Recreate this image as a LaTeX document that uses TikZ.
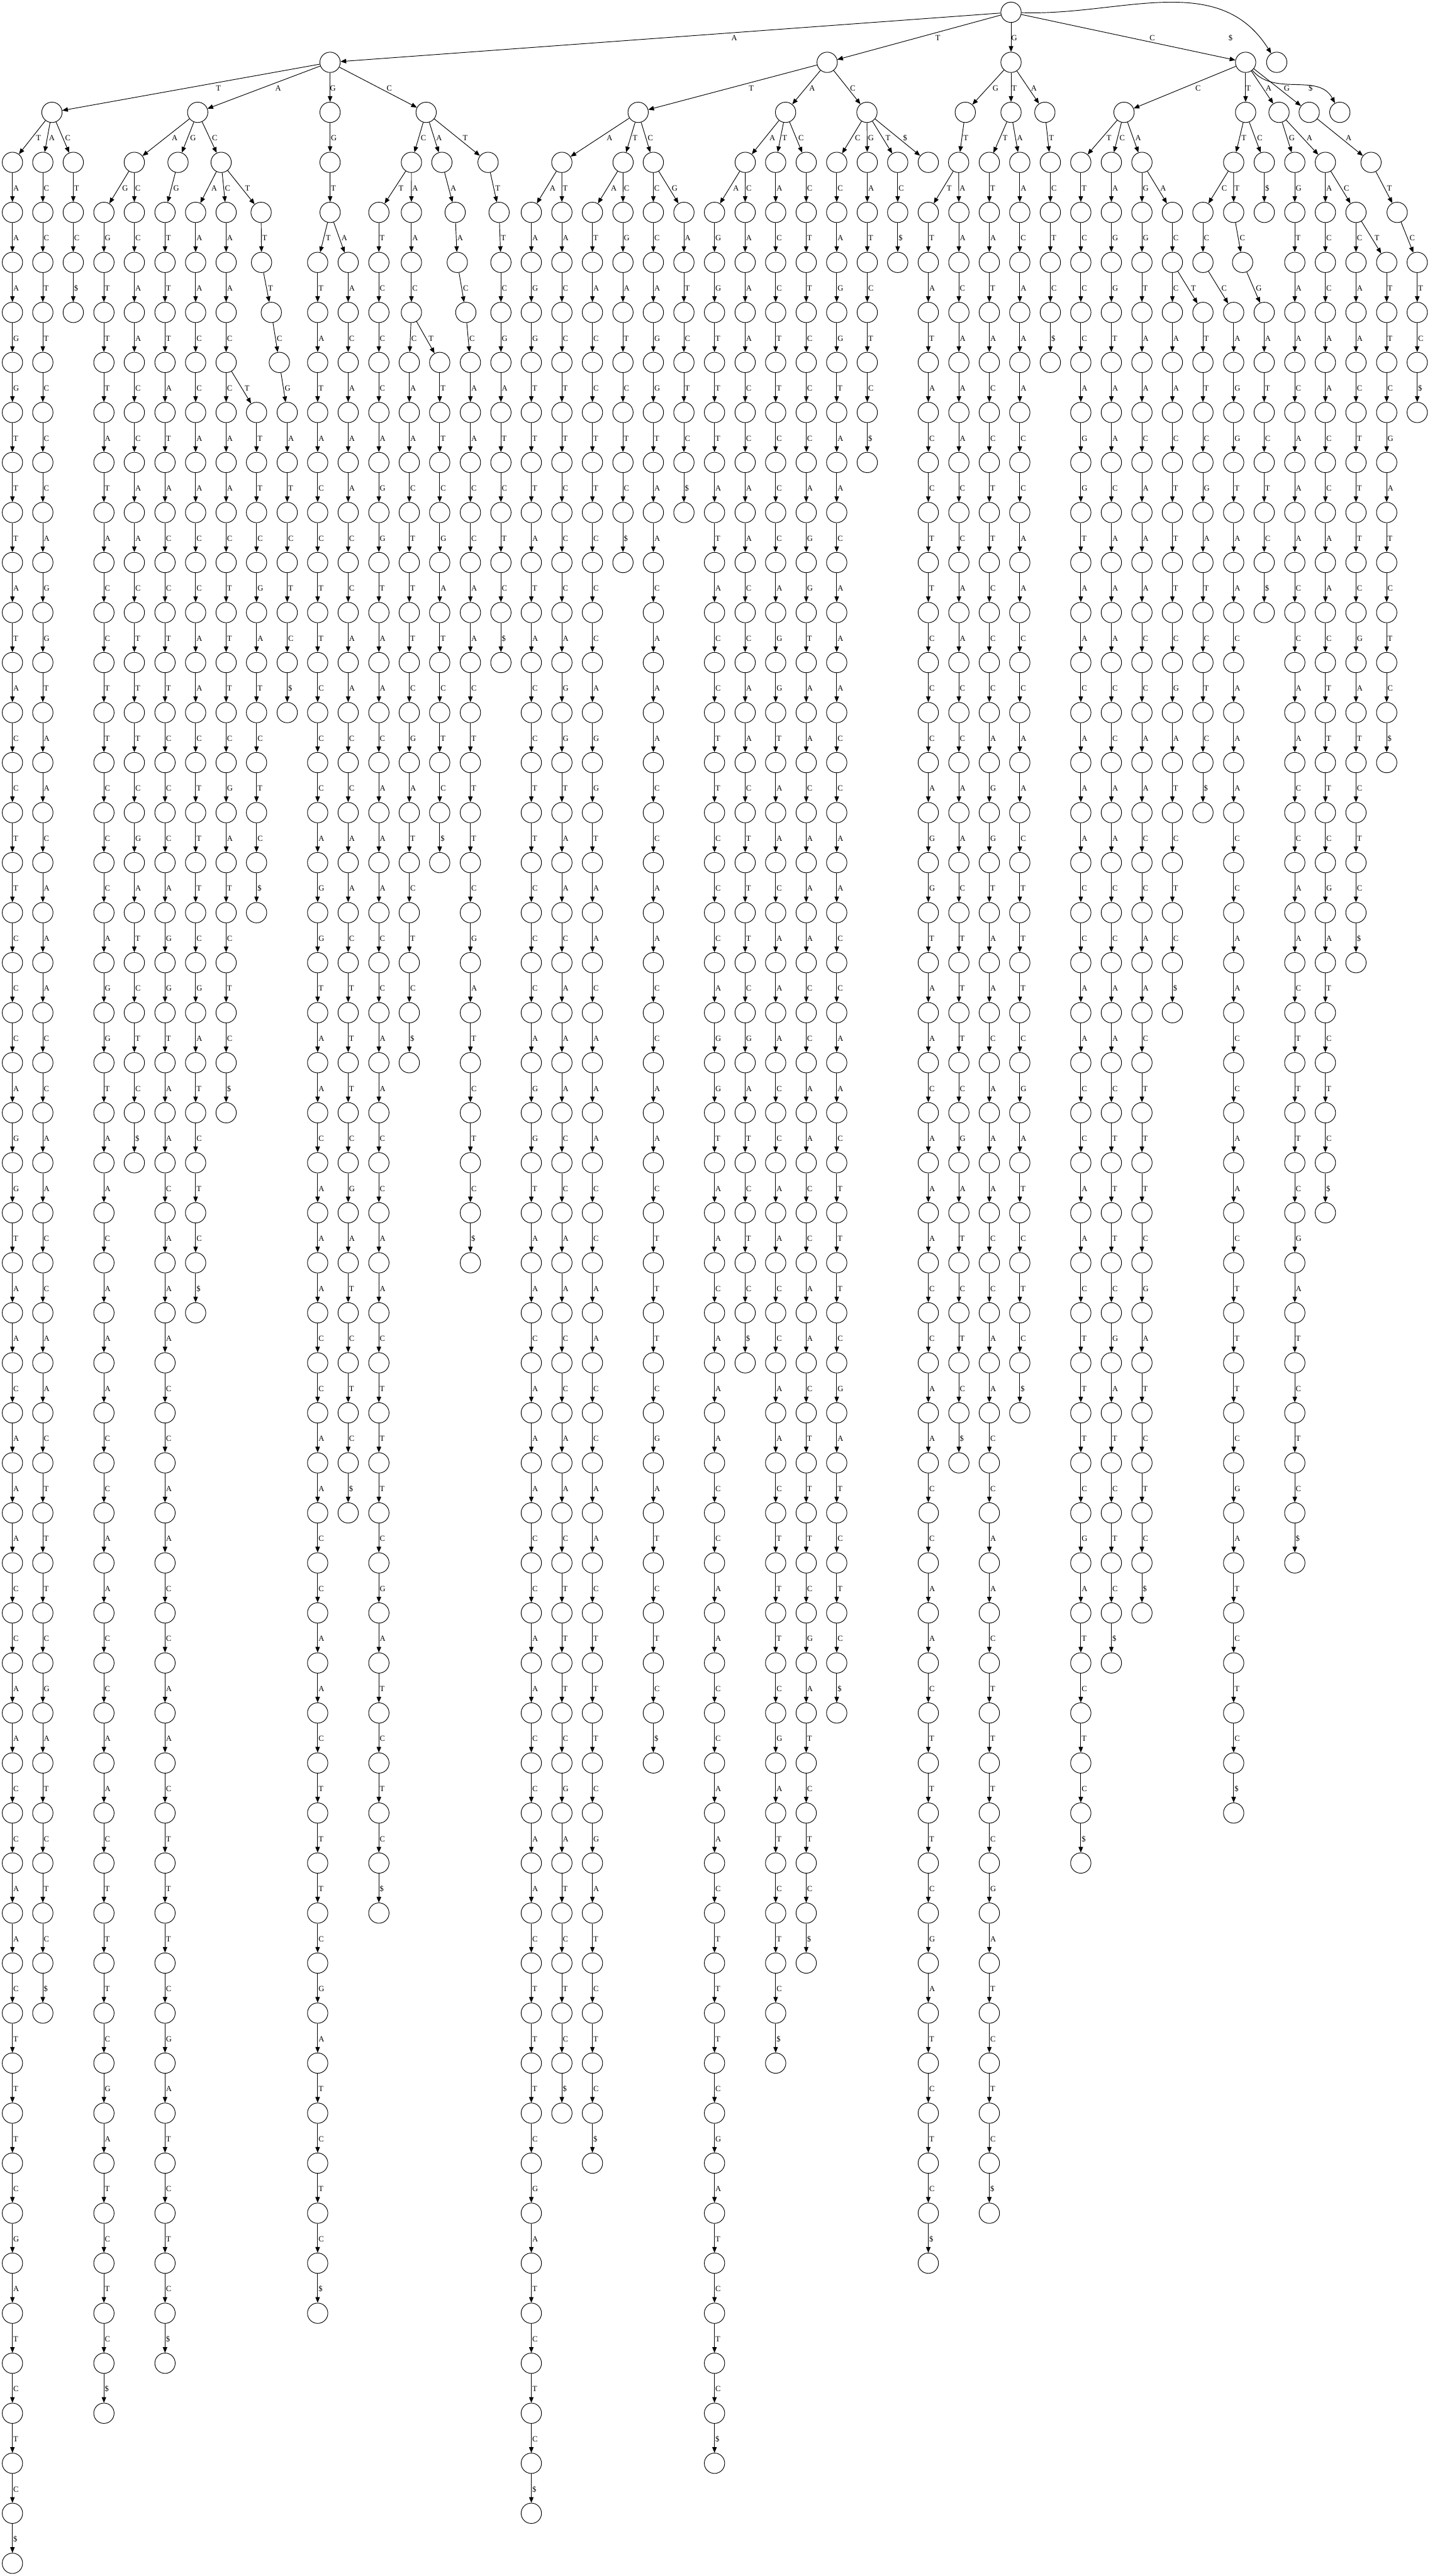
\documentclass[tikz,border=0pt]{standalone}
\usepackage{fontspec}
\setmainfont{Liberation Serif}
\usetikzlibrary{arrows.meta}

% the text, one letter per position
\foreach \c [count=\i from 0] in {A,T,T,A,A,A,G,G,T,T,T,A,T,A,C,C,T,T,C,C,C,A,G,G,T,A,A,C,A,A,A,C,C,A,A,C,C,A,A,C,T,T,T,C,G,A,T,C,T,C,\$}
  {\expandafter\global\expandafter\let\csname ch\i\endcsname\c}

% node of suffix #1 at depth #2, column #3, hung from #4
\newcommand\tnode[4]{%
  \node[trie] (s#1d#2) at (#3,#2) {};
  \expandafter\xdef\csname px@s#1d#2\endcsname{#3}%
  \pgfmathtruncatemacro\kk{#1+#2-1}%
  \pgfmathsetmacro\lshift{(1.5+9*abs(#3-\csname px@#4\endcsname)/118)*0.2}%
  \draw[edge] (#4) -- node[lbl, anchor=base west, xshift=\lshift pt, yshift=-1.63pt] {\csname ch\kk\endcsname} (s#1d#2);
}
% same, label at a given place
\newcommand\tnodeL[6]{%
  \node[trie] (s#1d#2) at (#3,#2) {};
  \expandafter\xdef\csname px@s#1d#2\endcsname{#3}%
  \pgfmathtruncatemacro\kk{#1+#2-1}%
  \draw[edge] (#4) -- (s#1d#2);
  \node[lbl] (l#1d#2) at (#5,#6) {\csname ch\kk\endcsname};
}
% straight run of suffix #1 from depth #2 down to its leaf
\newcommand\tchain[4]{%
  \tnode{#1}{#2}{#3}{#4}%
  \pgfmathtruncatemacro\dlast{51-#1}%
  \pgfmathtruncatemacro\dnext{#2+1}%
  \ifnum\dnext>\dlast\relax\else
    \foreach \d [evaluate=\d as \dp using int(\d-1)] in {\dnext,...,\dlast}{\tnode{#1}{\d}{#3}{s#1d\dp}}%
  \fi}

\begin{document}
\begin{tikzpicture}[
x=0.2pt, y=-23.6pt,
trie/.style={circle, draw, line width=0.28pt, minimum size=9.6pt, inner sep=0pt},
edge/.style={line width=0.28pt, -{Triangle[length=2.67pt,width=2.13pt]}},
lbl/.style={font=\fontsize{3.73}{4.5}\selectfont, inner sep=0pt},
]
\useasboundingbox (0,-0.24576) rectangle (3371,51.2542);

%Root and first letters
\node[trie] (root) at (2384.3,0) {};
\tnodeL{0}{1}{778.4}{root}{1731.8}{0.517}
\tnodeL{1}{1}{1950.7}{root}{2211.7}{0.517}
\tnodeL{6}{1}{2384.3}{root}{2391.8}{0.517}
\tnodeL{14}{1}{2937.5}{root}{2717.5}{0.517}
\node[trie] (s50d1) at (3010.9,1) {};
\draw[edge] (root) to[out=-2,in=122] (s50d1);
\node[lbl] (l50d1) at (2902,0.517) {\$};

\tnodeL{0}{2}{122.5}{s0d1}{515}{1.517}
\tnodeL{3}{2}{466.2}{s0d1}{656}{1.517}
\tnodeL{5}{2}{778.4}{s0d1}{785}{1.517}
\tnodeL{13}{2}{1005}{s0d1}{918}{1.517}
\tnodeL{1}{2}{1504.9}{s1d1}{1771.7}{1.517}
\tnodeL{2}{2}{1852.6}{s1d1}{1915.1}{1.517}
\tnodeL{17}{2}{2044.5}{s1d1}{2011.1}{1.517}
\tnodeL{6}{2}{2276.4}{s6d1}{2347.6}{1.517}
\tnodeL{7}{2}{2384.3}{s6d1}{2391.8}{1.517}
\tnodeL{44}{2}{2464.1}{s6d1}{2438.2}{1.517}
\tnodeL{14}{2}{2650.7}{s14d1}{2825.4}{1.517}
\tnodeL{15}{2}{2937.5}{s14d1}{2944}{1.517}
\tnodeL{20}{2}{3016.3}{s14d1}{2991.5}{1.517}
\tnodeL{43}{2}{3087.4}{s14d1}{3034.6}{1.517}
\node[trie] (s49d2) at (3159.7,2) {};
\draw[edge] (s14d1) to[out=-50,in=118] (s49d2);
\node[lbl] (l49d2) at (3090.7,1.517) {\$};

%A
\tchain{0}{3}{29.3}{s0d2}
\tchain{11}{3}{101}{s0d2}
\tchain{45}{3}{172.8}{s0d2}
\tnode{3}{3}{316.7}{s3d2}
\tchain{3}{4}{245.1}{s3d3}
\tchain{28}{4}{316.8}{s3d3}
\tnode{4}{3}{419.8}{s3d2}
\tchain{4}{4}{389.2}{s4d3}
\tnode{25}{3}{521.5}{s3d2}
\tchain{25}{4}{461.3}{s25d3}
\tchain{29}{4}{533.3}{s25d3}
\tchain{33}{8}{605}{s29d7}
\tnode{37}{4}{615.8}{s25d3}
\tnode{37}{5}{616.8}{s37d4}
\tnode{37}{6}{639.8}{s37d5}
\tnode{37}{7}{658.8}{s37d6}
\tchain{37}{8}{677.4}{s37d7}
\tnode{5}{3}{778.4}{s5d2}
\tnode{5}{4}{778.5}{s5d3}
\tchain{5}{5}{749.1}{s5d4}
\tchain{21}{5}{821.1}{s5d4}
\tnode{13}{3}{970.3}{s13d2}
\tchain{13}{4}{893.5}{s13d3}
\tnode{30}{4}{970.2}{s13d3}
\tnode{30}{5}{970.2}{s30d4}
\tnode{30}{6}{970.2}{s30d5}
\tchain{30}{7}{965.2}{s30d6}
\tchain{34}{7}{1036.9}{s30d6}
\tnode{26}{3}{1042.1}{s13d2}
\tnode{26}{4}{1073.4}{s26d3}
\tnode{26}{5}{1078.4}{s26d4}
\tnode{26}{6}{1098.5}{s26d5}
\tchain{26}{7}{1109.3}{s26d6}
\tnode{38}{3}{1151}{s13d2}
\tnode{38}{4}{1177}{s38d3}
\tchain{38}{5}{1181.3}{s38d4}

%T
\tnode{1}{3}{1325}{s1d2}
\tchain{1}{4}{1253}{s1d3}
\tchain{9}{4}{1325.1}{s1d3}
\tnode{8}{3}{1469.4}{s1d2}
\tchain{8}{4}{1397.1}{s8d3}
\tchain{40}{4}{1469.1}{s8d3}
\tnode{16}{3}{1540.7}{s1d2}
\tchain{16}{4}{1540.8}{s16d3}
\tchain{41}{4}{1612.9}{s16d3}
\tnode{2}{3}{1757.5}{s2d2}
\tchain{2}{4}{1685}{s2d3}
\tchain{24}{4}{1757.3}{s2d3}
\tchain{10}{3}{1829.2}{s2d2}
\tchain{12}{3}{1901.3}{s2d2}
\tchain{17}{3}{1973.2}{s17d2}
\tchain{42}{3}{2045.3}{s17d2}
\tchain{46}{3}{2117}{s17d2}
\tchain{48}{3}{2189.2}{s17d2}

%G
\tnode{6}{3}{2260.7}{s6d2}
\tchain{6}{4}{2189.2}{s6d3}
\tchain{22}{4}{2261.3}{s6d3}
\tchain{7}{3}{2333.1}{s7d2}
\tchain{23}{3}{2404.9}{s7d2}
\tchain{44}{3}{2477}{s44d2}

%C
\tchain{14}{3}{2548.8}{s14d2}
\tchain{18}{3}{2620.9}{s14d2}
\tchain{19}{3}{2693}{s14d2}
\tchain{31}{4}{2764.8}{s19d3}
\tchain{35}{6}{2836.9}{s31d5}
\tnode{15}{3}{2909.4}{s15d2}
\tnode{15}{4}{2836.9}{s15d3}
\tnode{15}{5}{2836.9}{s15d4}
\tchain{15}{6}{2909.3}{s15d5}
\tnode{39}{4}{2909.3}{s15d3}
\tnode{39}{5}{2930.4}{s39d4}
\tchain{39}{6}{2981.3}{s39d5}
\tchain{47}{3}{2981.5}{s15d2}
\tchain{20}{3}{3053.5}{s20d2}
\tchain{27}{3}{3125.6}{s20d2}
\tchain{32}{4}{3197.8}{s27d3}
\tchain{36}{5}{3270.2}{s32d4}
\tnode{43}{3}{3233.3}{s43d2}
\tnode{43}{4}{3294.9}{s43d3}
\tchain{43}{5}{3342.2}{s43d4}
\end{tikzpicture}
\end{document}
